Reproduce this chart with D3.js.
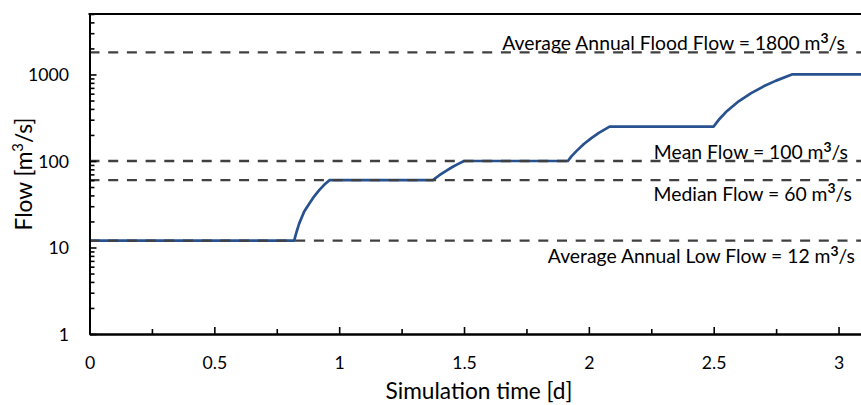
<!DOCTYPE html>
<html>
<head>
<meta charset="utf-8">
<script src="https://cdn.jsdelivr.net/npm/d3@7"></script>
<style>
  html, body { margin: 0; padding: 0; background: #fff; overflow: hidden; }
  svg { display: block; font-family: Lato, "Open Sans", sans-serif; }
</style>
</head>
<body>
<svg id="chart" width="861" height="405"></svg>
<script>
// ---- data ----
const timeDays = [0, 0.82, 0.825, 0.83, 0.835, 0.84, 0.86, 0.88, 0.90, 0.92, 0.94, 0.961,
  1.375, 1.40, 1.425, 1.45, 1.475, 1.5,
  1.916, 1.93, 1.95, 1.98, 2.01, 2.04, 2.083,
  2.5, 2.51, 2.525, 2.55, 2.6, 2.65, 2.7, 2.75, 2.813, 3.12];
const flowValues = [12, 12, 13.7, 15.4, 17.1, 19, 26, 32, 39, 46, 53, 60,
  60, 68, 76, 84, 92, 100,
  100, 113, 130, 157, 184, 211, 250,
  250, 274, 310, 370, 490, 609, 729, 849, 1000, 1000];
const refValues = [1800, 100, 60, 12];
const refNames = ["Average Annual Flood Flow = 1800 m", "Mean Flow = 100 m", "Median Flow = 60 m", "Average Annual Low Flow = 12 m"];
const xTicks = [0, 0.5, 1, 1.5, 2, 2.5, 3];
const xMinorTicks = [0.25, 0.75, 1.25, 1.75, 2.25, 2.75, 3.25];
const yTicks = [1, 10, 100, 1000];
const yMinorTicks = [2,3,4,5,6,7,8,9,20,30,40,50,60,70,80,90,200,300,400,500,600,700,800,900,2000,3000,4000,5000];

// ---- layout ----
const L = 89.5, R = 868.5, T = 14, B = 334;
// label anchor (right end x, baseline y) for each reference line
const refLabelPos = [[845, 50], [848, 159], [852, 200.5], [855, 263]];
// target rendered widths (px) used to size the substitute font like the original
const TARGET_LABEL_W = 343, TARGET_TICK_W = 41, TARGET_TITLE_W = 187;
const FAMILY = "Lato, 'Open Sans', sans-serif";

const svg = d3.select("#chart");
const x = d3.scaleLinear().domain([0, 3.12]).range([L, R]);
const y = d3.scaleLog().domain([1, 5000]).range([B, T]);

function fitSize(sel, base, target) {
  const w = sel.node().getComputedTextLength();
  return w > 0 ? base * target / w : base;
}

svg.append("defs").append("clipPath").attr("id", "clip")
  .append("rect").attr("x", L).attr("y", T).attr("width", R - L).attr("height", B - T);

// flow line
const line = d3.line().x((d, i) => x(timeDays[i])).y(d => y(d));
svg.append("path")
  .attr("clip-path", "url(#clip)")
  .attr("d", line(flowValues))
  .attr("fill", "none")
  .attr("stroke", "#27518f")
  .attr("stroke-width", 2.7)
  .attr("stroke-linejoin", "round");

// reference dashed lines
svg.append("g").selectAll("line").data(refValues).join("line")
  .attr("x1", L).attr("x2", R)
  .attr("y1", d => y(d)).attr("y2", d => y(d))
  .attr("stroke", "#404040")
  .attr("stroke-width", 2.4)
  .attr("stroke-dasharray", "10,8.7");

// reference labels
function buildLabels(size) {
  const g = svg.append("g").attr("class", "reflabels");
  const lbl = g.selectAll("text").data(refNames).join("text")
    .attr("x", (d, i) => refLabelPos[i][0])
    .attr("y", (d, i) => refLabelPos[i][1])
    .attr("text-anchor", "end")
    .attr("font-size", size)
    .attr("fill", "#000");
  lbl.append("tspan").text(d => d);
  lbl.append("tspan").text("3").attr("font-weight", "bold").attr("font-size", size * 0.72).attr("dy", -size * 0.37);
  lbl.append("tspan").text("/s").attr("dy", size * 0.37);
  return g;
}
let lg = buildLabels(19);
const labelSize = fitSize(lg.select("text"), 19, TARGET_LABEL_W);
lg.remove();
buildLabels(labelSize);

// axes
const xAxis = svg.append("g").attr("transform", `translate(0,${B})`)
  .call(d3.axisBottom(x).tickValues(xTicks).tickSize(-7).tickSizeOuter(0).tickFormat(d3.format("")));
const xMinor = svg.append("g").attr("transform", `translate(0,${B})`)
  .call(d3.axisBottom(x).tickValues(xMinorTicks).tickSize(-5).tickSizeOuter(0).tickFormat(""));
const yAxis = svg.append("g").attr("transform", `translate(${L},0)`)
  .call(d3.axisLeft(y).tickValues(yTicks).tickSize(-7).tickSizeOuter(0).tickFormat(d3.format("d")));
const yMinor = svg.append("g").attr("transform", `translate(${L},0)`)
  .call(d3.axisLeft(y).tickValues(yMinorTicks).tickSize(-5).tickSizeOuter(0).tickFormat(""));

[xAxis, xMinor, yAxis, yMinor].forEach(g => {
  g.attr("font-family", FAMILY);
  g.select(".domain").attr("stroke", "#000").attr("stroke-width", 2);
  g.selectAll(".tick line").attr("stroke", "#000").attr("stroke-width", 1.6);
});
yAxis.selectAll(".tick text").attr("font-size", 19);
const k1000 = yAxis.selectAll(".tick text").filter(d => d === 1000);
const tickSize = fitSize(k1000, 19, TARGET_TICK_W);
xAxis.selectAll(".tick text")
  .attr("y", 34.5).attr("dy", null)
  .attr("font-size", tickSize).attr("fill", "#000");
yAxis.selectAll(".tick text")
  .attr("x", -20.5).attr("dy", "0.35em")
  .attr("font-size", tickSize).attr("fill", "#000");

// plot border (top / right)
svg.append("line").attr("x1", L - 1).attr("x2", R).attr("y1", T).attr("y2", T)
  .attr("stroke", "#000").attr("stroke-width", 2);
svg.append("line").attr("x1", R).attr("x2", R).attr("y1", T).attr("y2", B)
  .attr("stroke", "#000").attr("stroke-width", 2);

// axis titles
const xt = svg.append("text")
  .attr("x", (L + R) / 2).attr("y", 399)
  .attr("text-anchor", "middle").attr("font-size", 20)
  .text("Simulation time [d]");
const titleSize = fitSize(xt, 20, TARGET_TITLE_W);
xt.attr("font-size", titleSize);
const yt = svg.append("text")
  .attr("transform", `translate(32,${(T + B) / 2}) rotate(-90)`)
  .attr("text-anchor", "middle").attr("font-size", titleSize);
yt.append("tspan").text("Flow [m");
yt.append("tspan").text("3").attr("font-size", titleSize * 0.65).attr("dy", -titleSize * 0.38);
yt.append("tspan").text("/s]").attr("dy", titleSize * 0.38);
</script>
</body>
</html>
